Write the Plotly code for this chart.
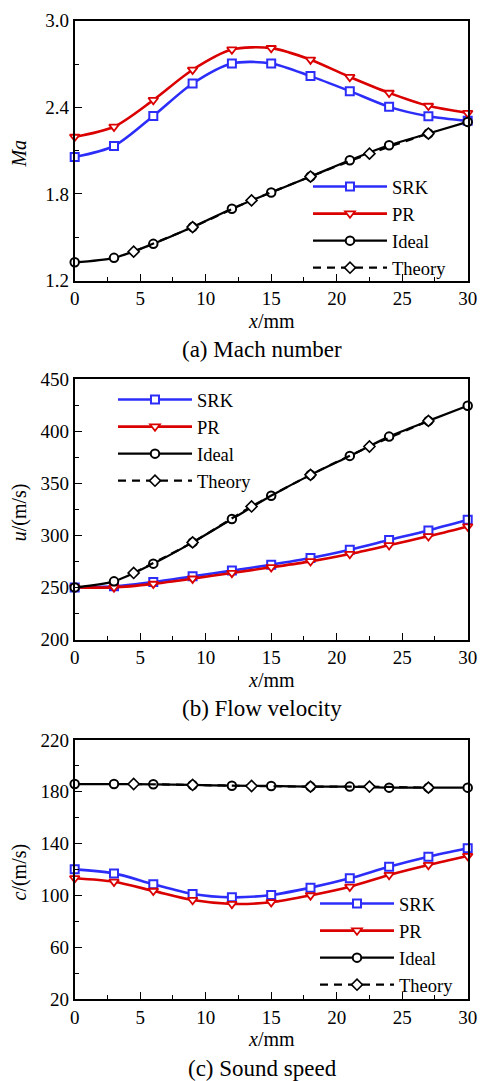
import plotly.graph_objects as go

# Axial position (mm) of the CFD samples and of the theory points
x_cfd = [0, 3, 6, 9, 12, 15, 18, 21, 24, 27, 30]
x_theory = [4.5, 9, 13.5, 18, 22.5, 27]

# (a) Mach number
ma_srk = [2.056, 2.132, 2.34, 2.565, 2.704, 2.704, 2.616, 2.512, 2.403, 2.338, 2.306]
ma_pr = [2.195, 2.265, 2.45, 2.66, 2.80, 2.81, 2.73, 2.61, 2.50, 2.41, 2.36]
ma_ideal = [1.326, 1.357, 1.454, 1.57, 1.697, 1.81, 1.92, 2.033, 2.137, 2.218, 2.299]
ma_theory = [1.40, 1.57, 1.755, 1.92, 2.079, 2.218]

# (b) Flow velocity, m/s
u_srk = [250, 251, 255.1, 260.6, 266.1, 271.8, 278.2, 286.2, 295.5, 304.7, 314.9]
u_pr = [250, 250, 253.4, 258.4, 263.9, 269.3, 275.0, 282.1, 290.5, 299.0, 308.5]
u_ideal = [250, 255.8, 272.8, 293.2, 315.6, 337.9, 358.0, 376.2, 394.7, 409.8, 424.4]
u_theory = [263.9, 293.2, 327.7, 358.0, 385.2, 409.8]

# (c) Sound speed, m/s
c_srk = [120.1, 117.0, 108.6, 101.1, 98.5, 100.3, 106.0, 113.2, 122.2, 129.9, 136.4]
c_pr = [113.2, 110.5, 103.5, 96.4, 93.4, 94.7, 100.0, 106.7, 115.8, 123.5, 130.4]
c_ideal = [186.0, 186.0, 185.8, 185.3, 184.7, 184.5, 184.0, 184.0, 183.2, 183.2, 183.2]
c_theory = [186.0, 185.3, 184.5, 184.0, 184.0, 183.2]

y_ranges = [[1.2, 3.0], [200, 450], [20, 220]]
y_dticks = [0.6, 50, 40]
y_titles = ["<i>Ma</i>", "<i>u</i>/(m/s)", "<i>c</i>/(m/s)"]
captions = ["(a) Mach number", "(b) Flow velocity", "(c) Sound speed"]

W, H = 480, 1081
FONT = "Liberation Serif, Times New Roman, serif"
BLUE = "rgb(45,45,250)"
RED = "rgb(218,0,0)"

# pixel boxes of the three panels: (top, bottom)
panel_px = [(20.7, 280.5), (379.0, 639.5), (740.0, 999.0)]
left_px, right_px = 74.7, 467.7


def fy(p):
    return 1 - p / H


def fx(p):
    return p / W


fig = go.Figure()

panels = [
    (ma_srk, ma_pr, ma_ideal, ma_theory),
    (u_srk, u_pr, u_ideal, u_theory),
    (c_srk, c_pr, c_ideal, c_theory),
]
legend_ids = ["legend", "legend2", "legend3"]

for i, (srk, pr, ideal, theory) in enumerate(panels):
    xa = "x" if i == 0 else f"x{i+1}"
    ya = "y" if i == 0 else f"y{i+1}"
    lg = legend_ids[i]
    common = dict(xaxis=xa, yaxis=ya, legend=lg, mode="lines+markers", cliponaxis=False)
    fig.add_trace(go.Scatter(
        x=x_cfd, y=srk, name="SRK", legendgroup=f"srk{i}",
        line=dict(color=BLUE, width=2.6, shape="spline", smoothing=0.8),
        marker=dict(symbol="square", size=8, color="white", line=dict(color=BLUE, width=2)),
        **common))
    fig.add_trace(go.Scatter(
        x=x_cfd, y=pr, name="PR", legendgroup=f"pr{i}",
        line=dict(color=RED, width=2.6, shape="spline", smoothing=0.8),
        marker=dict(symbol="triangle-down", size=8.5, color="white", line=dict(color=RED, width=1.8)),
        **common))
    fig.add_trace(go.Scatter(
        x=x_cfd, y=ideal, name="Ideal", legendgroup=f"ideal{i}",
        line=dict(color="black", width=2.2, shape="spline", smoothing=0.8),
        marker=dict(symbol="circle", size=8.5, color="white", line=dict(color="black", width=2)),
        **common))
    fig.add_trace(go.Scatter(
        x=x_theory, y=theory, name="Theory", legendgroup=f"theory{i}",
        line=dict(color="black", width=2.2, dash="8px,6px", shape="spline", smoothing=0.8),
        marker=dict(symbol="diamond", size=8.5, color="white", line=dict(color="black", width=1.6)),
        **common))

axis_common = dict(
    showline=True, linecolor="black", linewidth=1.6, mirror=True,
    ticks="inside", ticklen=7, tickwidth=1.3, tickcolor="black",
    showgrid=False, zeroline=False, automargin=False,
    tickfont=dict(family=FONT, size=19, color="black"),
)

layout = dict(
    width=W, height=H,
    margin=dict(l=0, r=0, t=0, b=0, autoexpand=False),
    paper_bgcolor="white", plot_bgcolor="white",
    font=dict(family=FONT, size=19, color="black"),
    showlegend=True,
)

legend_pos = [(308, 168), (113, 381), (315, 885)]
annotations = []
for i in range(3):
    top, bot = panel_px[i]
    xk = "xaxis" if i == 0 else f"xaxis{i+1}"
    yk = "yaxis" if i == 0 else f"yaxis{i+1}"
    ya = "y" if i == 0 else f"y{i+1}"
    layout[xk] = dict(
        domain=[fx(left_px), fx(right_px)], anchor=ya, range=[0, 30],
        tick0=0, dtick=5, minor=dict(ticks="inside", ticklen=4, dtick=2.5, tickcolor="black", tickwidth=1.3),
        **axis_common)
    layout[yk] = dict(
        domain=[fy(bot), fy(top)], anchor="x" if i == 0 else f"x{i+1}", range=y_ranges[i],
        tick0=y_ranges[i][0], dtick=y_dticks[i],
        tickformat=".1f" if i == 0 else "d",
        minor=dict(ticks="inside", ticklen=4, dtick=y_dticks[i] / 2, tickcolor="black", tickwidth=1.3),
        **axis_common)
    lx, ly = legend_pos[i]
    layout[legend_ids[i]] = dict(
        x=fx(lx), y=fy(ly), xanchor="left", yanchor="top",
        xref="paper", yref="paper",
        bgcolor="rgba(255,255,255,0)", borderwidth=0,
        font=dict(family=FONT, size=18.5, color="black"),
        itemwidth=74, tracegroupgap=0,
    )
    # x axis title and panel caption
    annotations.append(dict(
        x=fx((left_px + right_px) / 2), y=fy(bot + 40), xref="paper", yref="paper",
        text="<i>x</i>/mm", showarrow=False, font=dict(family=FONT, size=20),
        xanchor="center", yanchor="middle"))
    annotations.append(dict(
        x=fx(262), y=fy(bot + 69), xref="paper", yref="paper",
        text=captions[i], showarrow=False, font=dict(family=FONT, size=23),
        xanchor="center", yanchor="middle"))
    annotations.append(dict(
        x=fx(19), y=fy((top + bot) / 2 + 3), xref="paper", yref="paper",
        text=y_titles[i], showarrow=False, textangle=-90, font=dict(family=FONT, size=20),
        xanchor="center", yanchor="middle"))

layout["annotations"] = annotations
fig.update_layout(**layout)

fig.write_html("out.html")
